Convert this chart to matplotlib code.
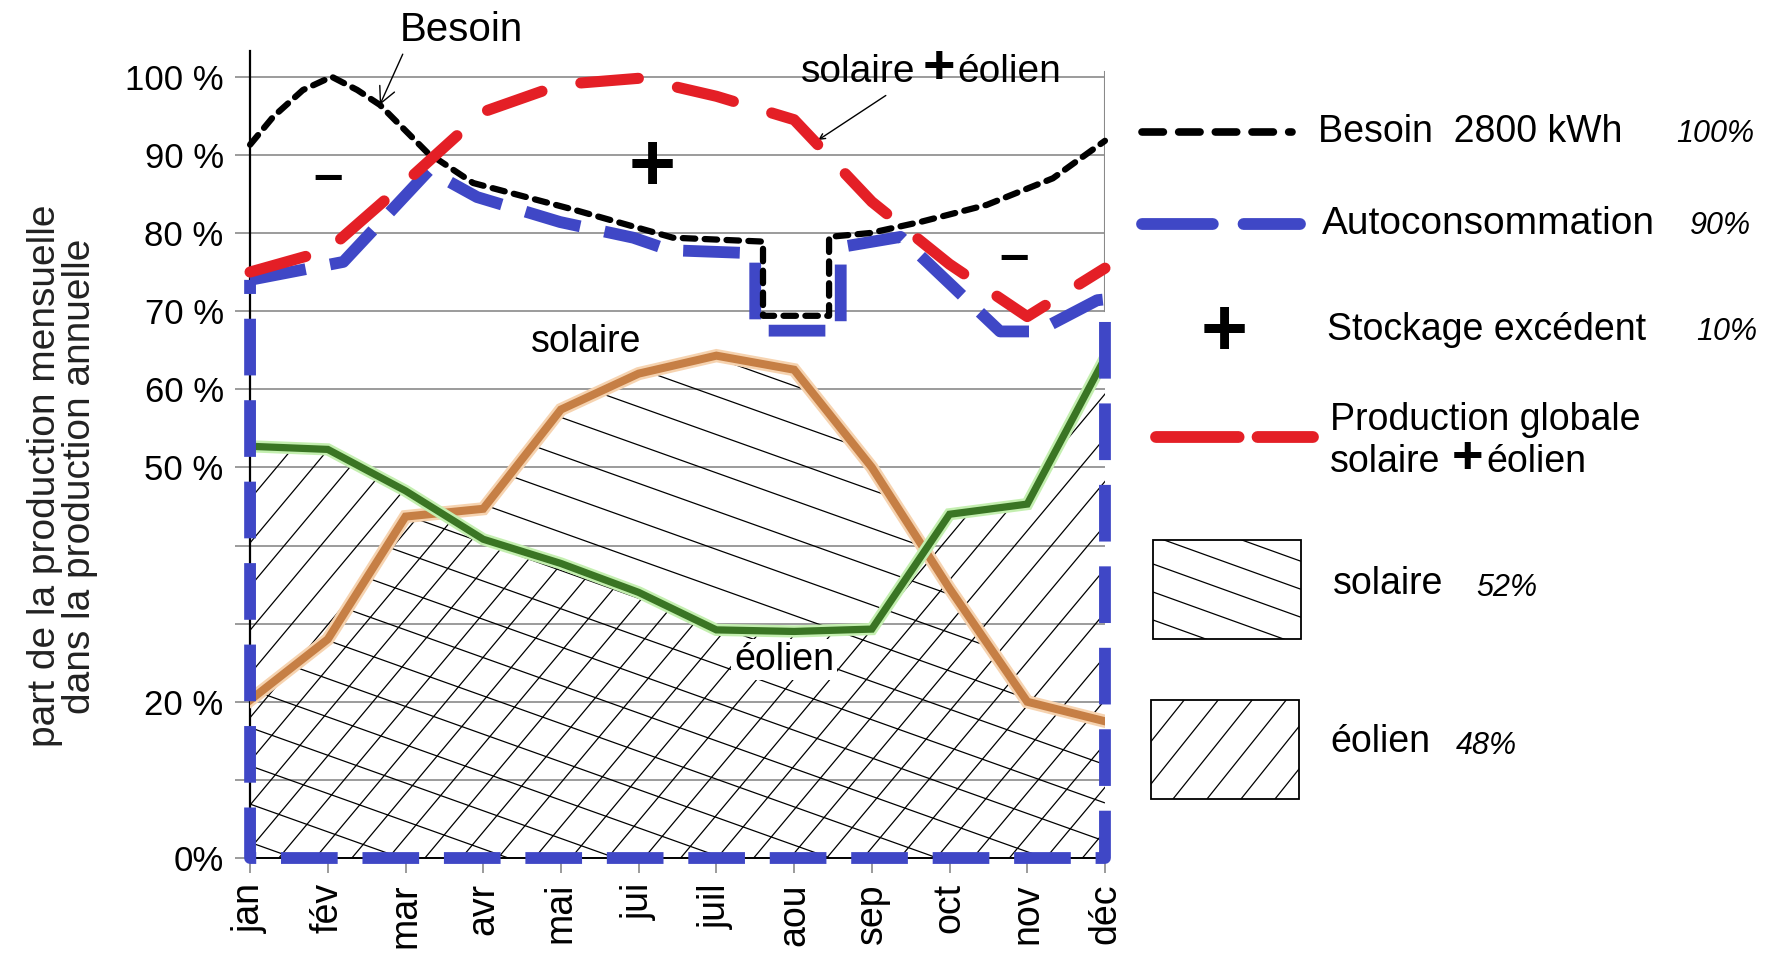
import matplotlib
matplotlib.use('Agg')
import matplotlib.pyplot as plt
import matplotlib.patheffects as pe
from matplotlib.collections import LineCollection
from matplotlib.patches import Rectangle
import numpy as np

plt.rcParams['font.family'] = ['Liberation Sans', 'DejaVu Sans']

mois = ['jan', 'fév', 'mar', 'avr', 'mai', 'jui', 'juil', 'aou', 'sep', 'oct', 'nov', 'déc']
y_labels = ['0%', '', '20 %', '', '', '50 %', '60 %', '70 %', '80 %', '90 %', '100 %']

# part de la production mensuelle dans la production annuelle (%)
solaire = [20.2, 28, 43.7, 44.7, 57.4, 62, 64.3, 62.5, 50, 34.5, 20, 17.5]
eolien = [52.7, 52.3, 47, 40.8, 37.7, 34, 29.2, 29, 29.3, 44, 45.3, 64]
production = [75, 77.8, 86.5, 95.5, 99, 99.8, 97.5, 94.5, 84, 76, 69.3, 75.5]

# besoin (abscisse en mois, 0 = jan)
besoin_x = [0, 0.3, 0.68, 1.05, 1.38, 1.67, 2.28, 2.87, 4.16, 5.44, 6.6, 6.6,
            7.45, 7.45, 7.98, 8.62, 9.48, 10.33, 11]
besoin_y = [91.3, 94.9, 98.3, 100, 98.3, 96.4, 90.3, 86.4, 83, 79.4, 78.9, 69.4,
            69.4, 79.5, 80, 81.4, 83.6, 87, 91.8]

# autoconsommation (contour fermé jusqu'à 0 %)
auto_x = [0, 1.2, 2.3, 2.92, 3.99, 4.93, 5.4, 6.5, 6.5, 7.6, 7.6, 8.37, 9.65,
          10.13, 10.9, 11, 11, 0, 0]
auto_y = [74, 76.3, 88, 84.6, 81.4, 79.4, 77.8, 77.4, 67.5, 67.5, 78.2, 79.5, 67.4,
          67.4, 71.4, 71.5, 0, 0, 74]

BLEU = '#3f47c6'
ROUGE = '#e41f26'
ORANGE = '#c67f45'
VERT = '#3a7524'
GRIS = '#8a8a8a'

fig = plt.figure(figsize=(17.9, 9.56), dpi=100)
ax = fig.add_axes([0.1397, 0.1025, 0.4776, 0.8442])
x = np.arange(len(mois))

ax.set_xlim(0, 11)
ax.set_ylim(0, 103.3)


def hachures(poly, segs):
    lc = LineCollection(segs, colors='black', linewidths=0.9, zorder=1)
    ax.add_collection(lc)
    lc.set_clip_path(poly.get_paths()[0], ax.transData)


# hachures solaire (lignes peu inclinées)
poly_sol = ax.fill_between(x, 0, solaire, facecolor='none', edgecolor='none')
pente_s = -3.55
segs = [[(0, b), (11, b + pente_s * 11)] for b in np.arange(2, 150, 4.9)]
hachures(poly_sol, segs)

# hachures éolien (lignes raides)
poly_eol = ax.fill_between(x, 0, eolien, facecolor='none', edgecolor='none')
pente_e = 11.9
segs = [[(x0, 0), (x0 + 110 / pente_e, 110)] for x0 in np.arange(-9.5, 11.5, 0.47)]
hachures(poly_eol, segs)

ax.grid(axis='y', color=GRIS, lw=1.2, zorder=0.5)
ax.set_axisbelow(True)

ax.plot(x, solaire, color=ORANGE, lw=5.8, zorder=3, solid_joinstyle='miter',
        path_effects=[pe.Stroke(linewidth=9.5, foreground='#f6d3b0'), pe.Normal()])
ax.plot(x, eolien, color=VERT, lw=5.2, zorder=3, solid_joinstyle='miter',
        path_effects=[pe.Stroke(linewidth=8.8, foreground='#c4efb0'), pe.Normal()])

ax.plot(auto_x, auto_y, color=BLEU, lw=8.5, dashes=(4.8, 2.1), dash_capstyle='butt',
        zorder=4, clip_on=False)
ax.plot(besoin_x, besoin_y, color='black', lw=4.5, dashes=(2.0, 1.5), dash_capstyle='round',
        zorder=5, clip_on=False)
ax.plot(x, production, color=ROUGE, lw=8, dashes=(5.2, 3.6), dash_capstyle='round',
        zorder=6, clip_on=False)

ax.axvline(11, ymin=70 / 103.3, ymax=100.6 / 103.3, color=GRIS, lw=1.5, zorder=2)

# axes
for s in ['top', 'right']:
    ax.spines[s].set_visible(False)
ax.spines['left'].set_linewidth(1.6)
ax.spines['bottom'].set_linewidth(1.4)
ax.set_yticks(range(0, 101, 10))
ax.set_yticklabels(y_labels)
ax.set_xticks(x)
ax.set_xticklabels(mois, rotation=90)
ax.tick_params(axis='y', length=11, width=1.2, color=GRIS, pad=8, labelsize=25)
ax.tick_params(axis='x', length=11, width=1.2, color=GRIS, pad=7, labelsize=27)

fig.text(0.035, 0.502, 'part de la production mensuelle\ndans la production annuelle',
         rotation=90, ha='center', va='center', fontsize=28, linespacing=0.95,
         color='#222222')

# légende et textes placés en pixels de la figure
lax = fig.add_axes([0, 0, 1, 1], facecolor='none')
lax.set_xlim(0, 1790)
lax.set_ylim(956, 0)
lax.axis('off')


def solaire_plus_eolien(x0, y0, taille):
    lax.text(x0, y0, 'solaire', fontsize=taille, va='center')
    lax.text(x0 + 122, y0 - 3, '+', fontsize=taille + 12, fontweight='bold',
             ha='left', va='center')
    lax.text(x0 + 156, y0, 'éolien', fontsize=taille, va='center')


# annotations
ax.annotate('Besoin', xy=(1.67, 96.4), xytext=(2.72, 106.0), fontsize=29,
            ha='center', va='center', annotation_clip=False,
            arrowprops=dict(arrowstyle='->', lw=1, color='black', relpos=(0.05, 0.05),
                            shrinkA=2, shrinkB=0))
solaire_plus_eolien(801, 72, 28)
ax.annotate('', xy=(7.31, 91.9), xytext=(8.18, 97.6), annotation_clip=False,
            arrowprops=dict(arrowstyle='->', lw=1, color='black', shrinkA=0, shrinkB=0))
ax.text(1.0, 87, '\u2013', fontsize=38, fontweight='bold', ha='center', va='center', zorder=7)
ax.text(9.83, 76.8, '\u2013', fontsize=38, fontweight='bold', ha='center', va='center', zorder=7)
ax.text(5.17, 88.2, '+', fontsize=58, fontweight='bold', ha='center', va='center', zorder=7)
ax.text(4.32, 66.1, 'solaire', fontsize=27, ha='center', va='center', zorder=7)
ax.text(6.87, 25.4, 'éolien', fontsize=27, ha='center', va='center', zorder=7,
        bbox=dict(facecolor='white', edgecolor='none', pad=2))

lax.plot([1142, 1292], [132, 132], color='black', lw=5.5, dashes=(2.8, 2.0),
         dash_capstyle='round')
lax.plot([1142, 1300], [224, 224], color=BLEU, lw=8.5, dashes=(6.0, 2.6),
         dash_capstyle='round')
lax.plot([1156, 1313], [437, 437], color=ROUGE, lw=8.5, dashes=(7.0, 1.6),
         dash_capstyle='round')
lax.text(1224, 334, '+', fontsize=58, fontweight='bold', ha='center', va='center')

lax.text(1318, 132, 'Besoin  2800 kWh', fontsize=27, va='center')
lax.text(1676, 134, '100%', fontsize=22, style='italic', va='center')
lax.text(1322, 224, 'Autoconsommation', fontsize=28, va='center')
lax.text(1690, 226, '90%', fontsize=22, style='italic', va='center')
lax.text(1327, 330, 'Stockage excédent', fontsize=27, va='center')
lax.text(1696, 332, '10%', fontsize=22, style='italic', va='center')
lax.text(1330, 420, 'Production globale', fontsize=27, va='center')
solaire_plus_eolien(1330, 462, 27)
lax.text(1333, 584, 'solaire', fontsize=27, va='center')
lax.text(1476, 588, '52%', fontsize=22, style='italic', va='center')
lax.text(1330, 742, 'éolien', fontsize=27, va='center')
lax.text(1456, 746, '48%', fontsize=22, style='italic', va='center')

# cases hachurées
for (bx, by), pente, pas in [((1153, 540), 0.36, 28), ((1151, 700), -1.25, 34)]:
    w, h = 148, 99
    rect = Rectangle((bx, by), w, h, facecolor='white', edgecolor='black', lw=1.3)
    lax.add_patch(rect)
    if pente > 0:
        segs = [[(bx, by + b), (bx + w, by + b + pente * w)] for b in np.arange(-60, h + 10, pas)]
    else:
        segs = [[(bx + a, by + h), (bx + a + h / -pente, by)] for a in np.arange(-80, w + 10, pas)]
    lc = LineCollection(segs, colors='black', linewidths=0.9)
    lax.add_collection(lc)
    lc.set_clip_path(rect)

fig.savefig('out.png', dpi=100)
